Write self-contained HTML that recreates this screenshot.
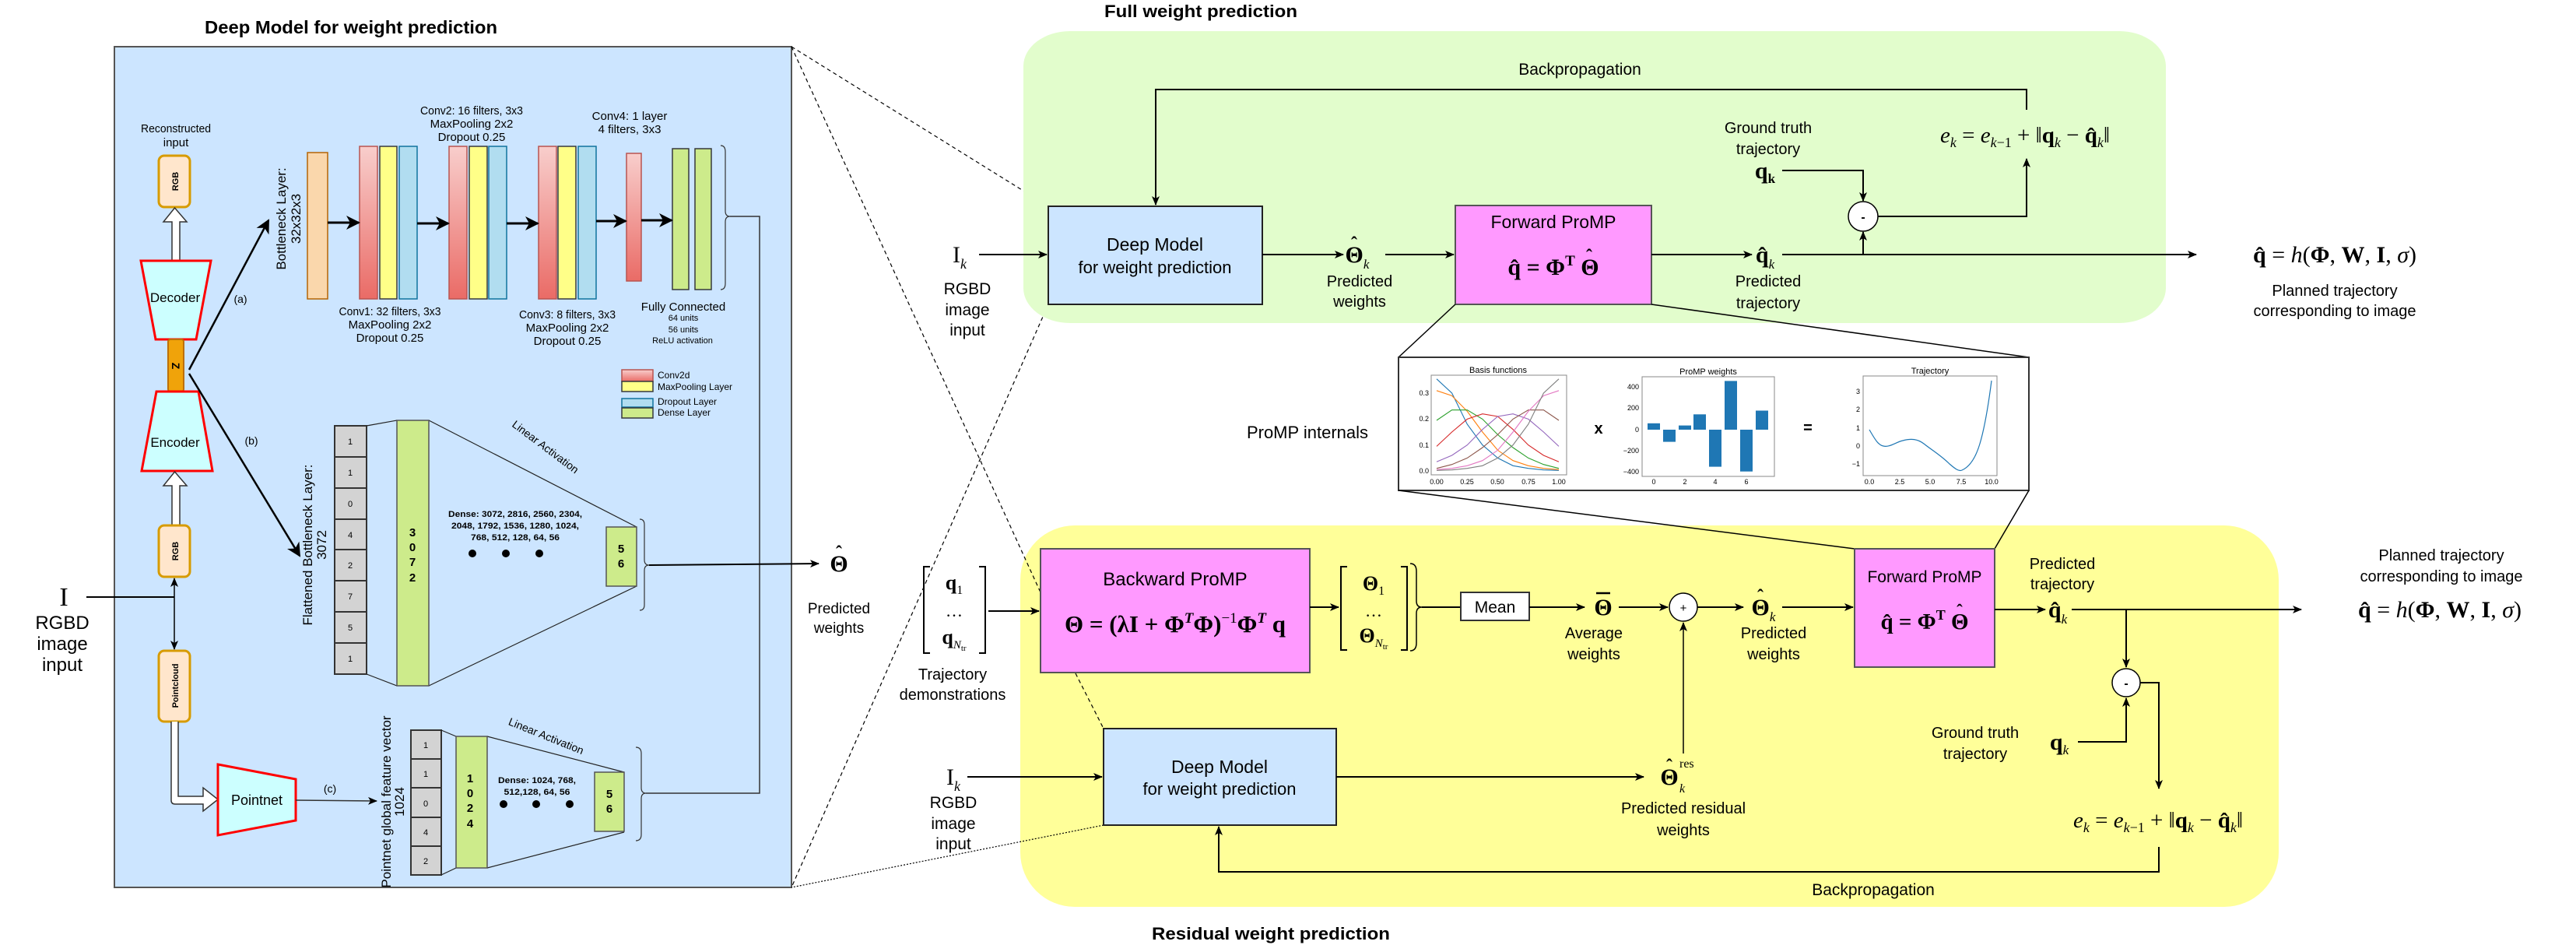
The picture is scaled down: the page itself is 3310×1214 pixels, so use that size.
<!DOCTYPE html>
<html><head><meta charset="utf-8"><style>
html,body{margin:0;padding:0;background:#fff}
svg{display:block}
text{font-family:"Liberation Sans",sans-serif;fill:#000}
.m{font-family:"Liberation Serif",serif}
.b{font-weight:bold}
</style></head><body>
<svg width="3310" height="1214" viewBox="0 0 3310 1214" xmlns="http://www.w3.org/2000/svg">
<defs>
<marker id="a" markerWidth="12" markerHeight="10" refX="11" refY="5" orient="auto" markerUnits="userSpaceOnUse"><path d="M0,0 L12,5 L0,10 L3,5 z" fill="#000"/></marker>
<marker id="t" markerWidth="18" markerHeight="18" refX="16" refY="9" orient="auto" markerUnits="userSpaceOnUse"><path d="M0,0 L18,9 L0,18 L5,9 z" fill="#000"/></marker>
<linearGradient id="rg" x1="0" y1="0" x2="0" y2="1"><stop offset="0" stop-color="#f8cecc"/><stop offset="1" stop-color="#ea6b66"/></linearGradient>
</defs>

<!-- ===== LEFT PANEL ===== -->
<text x="451" y="43" text-anchor="middle" class="b" font-size="23" textLength="376" lengthAdjust="spacingAndGlyphs">Deep Model for weight prediction</text>
<rect x="147" y="60" width="870" height="1080" fill="#cce5ff" stroke="#555" stroke-width="2"/>

<text x="226" y="170" text-anchor="middle" font-size="15" textLength="90" lengthAdjust="spacingAndGlyphs">Reconstructed</text>
<text x="226" y="188" text-anchor="middle" font-size="15">input</text>
<rect x="204" y="200" width="40" height="66" rx="7" fill="#ffe6cc" stroke="#d79b00" stroke-width="3"/>
<text transform="translate(229,233) rotate(-90)" text-anchor="middle" class="b" font-size="11">RGB</text>
<polygon points="221,335 221,285 210,285 224.5,267 240,285 231,285 231,335" fill="#fff" stroke="#333" stroke-width="1.5"/>
<polygon points="181,335 271,335 252,436 200,436" fill="#ccffff" stroke="#f00" stroke-width="3"/>
<text x="225" y="388" text-anchor="middle" font-size="17">Decoder</text>
<rect x="216" y="436" width="20" height="67" rx="3" fill="#f0a30a" stroke="#bd7000" stroke-width="2"/>
<text transform="translate(221,470) rotate(90)" text-anchor="middle" class="b" font-size="14">Z</text>
<polygon points="201,503 255,503 273,605 182,605" fill="#ccffff" stroke="#f00" stroke-width="3"/>
<text x="225" y="574" text-anchor="middle" font-size="17">Encoder</text>
<polygon points="221,675 221,624 210,624 224.5,606 240,624 231,624 231,675" fill="#fff" stroke="#333" stroke-width="1.5"/>
<rect x="204" y="675" width="40" height="66" rx="7" fill="#ffe6cc" stroke="#d79b00" stroke-width="3"/>
<text transform="translate(229,708) rotate(-90)" text-anchor="middle" class="b" font-size="11">RGB</text>
<rect x="204" y="836" width="40" height="91" rx="7" fill="#ffe6cc" stroke="#d79b00" stroke-width="3"/>
<text transform="translate(229,881) rotate(-90)" text-anchor="middle" class="b" font-size="11">Pointcloud</text>
<path d="M220,927 L220,1028 Q220,1033 225,1033 L261,1033 L261,1042 L280,1027 L261,1012 L261,1023 L229,1023 L229,927" fill="#fff" stroke="#333" stroke-width="1.5"/>
<line x1="224" y1="767" x2="224" y2="743" stroke="#000" stroke-width="1.5" marker-end="url(#a)"/>
<line x1="224" y1="767" x2="224" y2="834" stroke="#000" stroke-width="1.5" marker-end="url(#a)"/>
<line x1="111" y1="767" x2="224" y2="767" stroke="#000" stroke-width="2"/>
<text x="82" y="778" text-anchor="middle" class="m" font-size="34">I</text>
<text x="80" y="808" text-anchor="middle" font-size="24">RGBD</text>
<text x="80" y="835" text-anchor="middle" font-size="24">image</text>
<text x="80" y="862" text-anchor="middle" font-size="24">input</text>

<polygon points="280,982 380,1001 380,1054 280,1073" fill="#ccffff" stroke="#f00" stroke-width="3"/>
<text x="330" y="1034" text-anchor="middle" font-size="18">Pointnet</text>
<text x="424" y="1018" text-anchor="middle" font-size="14">(c)</text>
<line x1="380" y1="1028" x2="484" y2="1029" stroke="#333" stroke-width="1.5" marker-end="url(#a)"/>
<text transform="translate(502,1030) rotate(-90)" text-anchor="middle" font-size="17">Pointnet global feature vector</text>
<text transform="translate(519,1030) rotate(-90)" text-anchor="middle" font-size="17">1024</text>
<g stroke="#333" stroke-width="2" fill="#d3d3d3">
<rect x="528" y="938" width="39" height="37"/><rect x="528" y="975" width="39" height="37"/><rect x="528" y="1012" width="39" height="38"/><rect x="528" y="1050" width="39" height="37"/><rect x="528" y="1087" width="39" height="37"/>
</g>
<g font-size="11" text-anchor="middle"><text x="547" y="961">1</text><text x="547" y="998">1</text><text x="547" y="1036">0</text><text x="547" y="1073">4</text><text x="547" y="1110">2</text></g>
<g stroke="#222" stroke-width="1.2" fill="none">
<line x1="567" y1="938" x2="586" y2="946"/><line x1="567" y1="1124" x2="586" y2="1115"/>
<line x1="626" y1="946" x2="802" y2="992"/><line x1="626" y1="1115" x2="802" y2="1069"/>
</g>
<rect x="586" y="946" width="40" height="169" fill="#cdeb8b" stroke="#555" stroke-width="1.5"/>
<g class="b" font-size="15" text-anchor="middle"><text x="604" y="1005">1</text><text x="604" y="1024">0</text><text x="604" y="1043">2</text><text x="604" y="1063">4</text></g>
<rect x="764" y="992" width="38" height="76" fill="#cdeb8b" stroke="#555" stroke-width="1.5"/>
<g class="b" font-size="15" text-anchor="middle"><text x="783" y="1025">5</text><text x="783" y="1044">6</text></g>
<text transform="translate(700,950) rotate(22)" text-anchor="middle" font-size="14">Linear Activation</text>
<text x="690" y="1006" text-anchor="middle" class="b" font-size="11" textLength="100" lengthAdjust="spacingAndGlyphs">Dense: 1024, 768,</text>
<text x="690" y="1021" text-anchor="middle" class="b" font-size="11" textLength="85" lengthAdjust="spacingAndGlyphs">512,128, 64, 56</text>
<circle cx="647" cy="1033" r="5"/><circle cx="689" cy="1033" r="5"/><circle cx="732" cy="1033" r="5"/>
<path d="M817,960 Q824,960 824,968 L824,1012 Q824,1019 830,1019 Q824,1019 824,1026 L824,1072 Q824,1080 817,1080" fill="none" stroke="#333" stroke-width="1.2"/>

<!-- flattened -->
<text transform="translate(401,700) rotate(-90)" text-anchor="middle" font-size="17">Flattened Bottleneck Layer:</text>
<text transform="translate(419,700) rotate(-90)" text-anchor="middle" font-size="17">3072</text>
<g stroke="#333" stroke-width="2" fill="#d3d3d3">
<rect x="430" y="547" width="41" height="40"/><rect x="430" y="587" width="41" height="40"/><rect x="430" y="627" width="41" height="40"/><rect x="430" y="667" width="41" height="39"/><rect x="430" y="706" width="41" height="40"/><rect x="430" y="746" width="41" height="40"/><rect x="430" y="786" width="41" height="40"/><rect x="430" y="826" width="41" height="40"/>
</g>
<g font-size="11" text-anchor="middle"><text x="450" y="571">1</text><text x="450" y="611">1</text><text x="450" y="651">0</text><text x="450" y="691">4</text><text x="450" y="730">2</text><text x="450" y="770">7</text><text x="450" y="810">5</text><text x="450" y="850">1</text></g>
<g stroke="#222" stroke-width="1.2" fill="none">
<line x1="471" y1="547" x2="510" y2="540"/><line x1="471" y1="866" x2="510" y2="881"/>
<line x1="551" y1="540" x2="818" y2="677"/><line x1="551" y1="881" x2="818" y2="753"/>
</g>
<rect x="510" y="540" width="41" height="341" fill="#cdeb8b" stroke="#555" stroke-width="1.5"/>
<g class="b" font-size="15" text-anchor="middle"><text x="530" y="689">3</text><text x="530" y="708">0</text><text x="530" y="727">7</text><text x="530" y="747">2</text></g>
<rect x="779" y="677" width="39" height="76" fill="#cdeb8b" stroke="#555" stroke-width="1.5"/>
<g class="b" font-size="15" text-anchor="middle"><text x="798" y="710">5</text><text x="798" y="729">6</text></g>
<text transform="translate(698,578) rotate(37)" text-anchor="middle" font-size="14">Linear Activation</text>
<text x="662" y="664" text-anchor="middle" class="b" font-size="11" textLength="172" lengthAdjust="spacingAndGlyphs">Dense: 3072, 2816, 2560, 2304,</text>
<text x="662" y="679" text-anchor="middle" class="b" font-size="11" textLength="164" lengthAdjust="spacingAndGlyphs">2048, 1792, 1536, 1280, 1024,</text>
<text x="662" y="694" text-anchor="middle" class="b" font-size="11" textLength="114" lengthAdjust="spacingAndGlyphs">768, 512, 128, 64, 56</text>
<circle cx="607" cy="711" r="5"/><circle cx="650" cy="711" r="5"/><circle cx="693" cy="711" r="5"/>
<path d="M822,667 Q828,667 828,674 L828,719 Q828,726 834,726 Q828,726 828,733 L828,777 Q828,784 822,784" fill="none" stroke="#333" stroke-width="1.2"/>

<!-- (a),(b) -->
<line x1="243" y1="475" x2="345" y2="283" stroke="#000" stroke-width="2.5" marker-end="url(#t)"/>
<line x1="243" y1="480" x2="385" y2="714" stroke="#000" stroke-width="2.5" marker-end="url(#t)"/>
<text x="309" y="389" text-anchor="middle" font-size="14">(a)</text>
<text x="323" y="571" text-anchor="middle" font-size="14">(b)</text>

<!-- conv stack -->
<text transform="translate(367,281) rotate(-90)" text-anchor="middle" font-size="17">Bottleneck Layer:</text>
<text transform="translate(386,281) rotate(-90)" text-anchor="middle" font-size="17">32x32x3</text>
<rect x="395" y="196" width="26" height="188" fill="#fad7ac" stroke="#b46504" stroke-width="1.5"/>
<g stroke-width="1.5">
<rect x="462" y="188" width="23" height="196" fill="url(#rg)" stroke="#b85450"/>
<rect x="488" y="188" width="22" height="196" fill="#ffff88" stroke="#36393d"/>
<rect x="513" y="188" width="23" height="196" fill="#b1ddf0" stroke="#10739e"/>
<rect x="577" y="188" width="23" height="196" fill="url(#rg)" stroke="#b85450"/>
<rect x="603" y="188" width="23" height="196" fill="#ffff88" stroke="#36393d"/>
<rect x="628" y="188" width="23" height="196" fill="#b1ddf0" stroke="#10739e"/>
<rect x="692" y="188" width="23" height="196" fill="url(#rg)" stroke="#b85450"/>
<rect x="717" y="188" width="23" height="196" fill="#ffff88" stroke="#36393d"/>
<rect x="743" y="188" width="23" height="196" fill="#b1ddf0" stroke="#10739e"/>
<rect x="805" y="197" width="19" height="164" fill="url(#rg)" stroke="#b85450"/>
<rect x="864" y="191" width="21" height="181" fill="#cdeb8b" stroke="#36393d"/>
<rect x="893" y="191" width="21" height="181" fill="#cdeb8b" stroke="#36393d"/>
</g>
<g stroke="#000" stroke-width="3">
<line x1="421" y1="286" x2="461" y2="286" marker-end="url(#t)"/>
<line x1="536" y1="287" x2="576" y2="287" marker-end="url(#t)"/>
<line x1="651" y1="287" x2="691" y2="287" marker-end="url(#t)"/>
<line x1="766" y1="284" x2="804" y2="284" marker-end="url(#t)"/>
<line x1="824" y1="283" x2="863" y2="283" marker-end="url(#t)"/>
</g>
<g font-size="15" text-anchor="middle">
<text x="501" y="405" textLength="131" lengthAdjust="spacingAndGlyphs">Conv1: 32 filters, 3x3</text><text x="501" y="422">MaxPooling 2x2</text><text x="501" y="439">Dropout 0.25</text>
<text x="606" y="147" textLength="132" lengthAdjust="spacingAndGlyphs">Conv2: 16 filters, 3x3</text><text x="606" y="164">MaxPooling 2x2</text><text x="606" y="181">Dropout 0.25</text>
<text x="729" y="409" textLength="124" lengthAdjust="spacingAndGlyphs">Conv3: 8 filters, 3x3</text><text x="729" y="426">MaxPooling 2x2</text><text x="729" y="443">Dropout 0.25</text>
<text x="809" y="154">Conv4: 1 layer</text><text x="809" y="171">4 filters, 3x3</text>
<text x="878" y="399">Fully Connected</text>
</g>
<g font-size="11" text-anchor="middle"><text x="878" y="412">64 units</text><text x="878" y="427">56 units</text><text x="877" y="441">ReLU activation</text></g>
<path d="M926,187 Q932,187 932,195 L932,271 Q932,278 938,278 Q932,278 932,285 L932,364 Q932,372 926,372" fill="none" stroke="#333" stroke-width="1.2"/>
<polyline points="938,278 976,278 976,1019 830,1019" fill="none" stroke="#333" stroke-width="1.5"/>
<!-- legend -->
<rect x="799" y="475" width="40" height="15" fill="url(#rg)" stroke="#b85450" stroke-width="1.5"/>
<rect x="799" y="490" width="40" height="13" fill="#ffff88" stroke="#36393d" stroke-width="1.5"/>
<rect x="799" y="512" width="40" height="11" fill="#b1ddf0" stroke="#10739e" stroke-width="1.5"/>
<rect x="799" y="524" width="40" height="13" fill="#cdeb8b" stroke="#36393d" stroke-width="1.5"/>
<g font-size="12"><text x="845" y="486">Conv2d</text><text x="845" y="501">MaxPooling Layer</text><text x="845" y="520">Dropout Layer</text><text x="845" y="534">Dense Layer</text></g>

<!-- output of left panel -->
<line x1="834" y1="726" x2="1052" y2="724" stroke="#000" stroke-width="2" marker-end="url(#a)"/>
<text x="1078" y="734" text-anchor="middle" class="m b" font-size="30">Θ</text>
<text x="1078" y="718" text-anchor="middle" class="m b" font-size="24">ˆ</text>
<text x="1078" y="788" text-anchor="middle" font-size="19">Predicted</text>
<text x="1078" y="813" text-anchor="middle" font-size="19">weights</text>

<!-- dotted connectors -->
<g stroke="#000" stroke-width="1.2" stroke-dasharray="5,4" fill="none">
<line x1="1017" y1="60" x2="1347" y2="265"/>
<line x1="1347" y1="391" x2="1017" y2="1140"/>
</g>

<!-- ===== TOP GREEN ===== -->
<text x="1543" y="22" text-anchor="middle" class="b" font-size="22" textLength="248" lengthAdjust="spacingAndGlyphs">Full weight prediction</text>
<rect x="1315" y="40" width="1468" height="375" rx="60" ry="45" fill="#e2fdcc"/>
<text x="2030" y="96" text-anchor="middle" font-size="21">Backpropagation</text>
<polyline points="2604,141 2604,115 1485,115 1485,263" fill="none" stroke="#000" stroke-width="2" marker-end="url(#a)"/>
<rect x="1347" y="265" width="275" height="126" fill="#cce5ff" stroke="#222" stroke-width="2"/>
<text x="1484" y="322" text-anchor="middle" font-size="23">Deep Model</text>
<text x="1484" y="351" text-anchor="middle" font-size="22">for weight prediction</text>
<rect x="1870" y="264" width="252" height="127" fill="#ff99ff" stroke="#555" stroke-width="2"/>
<text x="1996" y="293" text-anchor="middle" font-size="23">Forward ProMP</text>
<text x="1996" y="353" text-anchor="middle" class="m b" font-size="30">q̂ = Φ<tspan font-size="19" dy="-12">T</tspan><tspan dy="12"> Θ</tspan></text>
<text x="2042" y="337" text-anchor="middle" class="m b" font-size="24">ˆ</text>
<text x="1233" y="337" text-anchor="middle" class="m" font-size="30">I<tspan font-size="18" font-style="italic" dy="8">k</tspan></text>
<line x1="1258" y1="327" x2="1345" y2="327" stroke="#000" stroke-width="2" marker-end="url(#a)"/>
<text x="1243" y="378" text-anchor="middle" font-size="21">RGBD</text>
<text x="1243" y="405" text-anchor="middle" font-size="21">image</text>
<text x="1243" y="431" text-anchor="middle" font-size="21">input</text>
<line x1="1622" y1="327" x2="1726" y2="327" stroke="#000" stroke-width="2" marker-end="url(#a)"/>
<text x="1744" y="337" text-anchor="middle" class="m b" font-size="30">Θ<tspan font-size="17" font-style="italic" font-weight="normal" dy="8">k</tspan></text>
<text x="1740" y="321" text-anchor="middle" class="m b" font-size="24">ˆ</text>
<line x1="1780" y1="327" x2="1868" y2="327" stroke="#000" stroke-width="2" marker-end="url(#a)"/>
<text x="1747" y="368" text-anchor="middle" font-size="20">Predicted</text>
<text x="1747" y="394" text-anchor="middle" font-size="20">weights</text>
<line x1="2122" y1="327" x2="2251" y2="327" stroke="#000" stroke-width="2" marker-end="url(#a)"/>
<text x="2268" y="337" text-anchor="middle" class="m b" font-size="30">q̂<tspan font-size="17" font-style="italic" font-weight="normal" dy="8">k</tspan></text>
<text x="2272" y="368" text-anchor="middle" font-size="20">Predicted</text>
<text x="2272" y="396" text-anchor="middle" font-size="20">trajectory</text>
<line x1="2290" y1="327" x2="2822" y2="327" stroke="#000" stroke-width="2" marker-end="url(#a)"/>
<text x="3000" y="337" text-anchor="middle" class="m" font-size="30"><tspan font-weight="bold">q̂</tspan> = <tspan font-style="italic">h</tspan>(<tspan font-weight="bold">Φ</tspan>, <tspan font-weight="bold">W</tspan>, <tspan font-weight="bold">I</tspan>, <tspan font-style="italic">σ</tspan>)</text>
<text x="3000" y="380" text-anchor="middle" font-size="20">Planned trajectory</text>
<text x="3000" y="406" text-anchor="middle" font-size="20">corresponding to image</text>
<text x="2272" y="171" text-anchor="middle" font-size="20">Ground truth</text>
<text x="2272" y="198" text-anchor="middle" font-size="20">trajectory</text>
<text x="2268" y="229" text-anchor="middle" class="m b" font-size="30">q<tspan font-size="17" dy="6">k</tspan></text>
<polyline points="2290,219 2394,219 2394,258" fill="none" stroke="#000" stroke-width="2" marker-end="url(#a)"/>
<line x1="2394" y1="327" x2="2394" y2="298" stroke="#000" stroke-width="2" marker-end="url(#a)"/>
<ellipse cx="2394" cy="278" rx="19" ry="19" fill="#fff" stroke="#000" stroke-width="1.5"/>
<text x="2394" y="284" text-anchor="middle" class="b" font-size="16">-</text>
<polyline points="2413,278 2604,278 2604,204" fill="none" stroke="#000" stroke-width="2" marker-end="url(#a)"/>
<text x="2602" y="183" text-anchor="middle" class="m" font-size="29"><tspan font-style="italic">e</tspan><tspan font-size="18" font-style="italic" dy="6">k</tspan><tspan dy="-6"> = </tspan><tspan font-style="italic">e</tspan><tspan font-size="18" dy="6"><tspan font-style="italic">k</tspan>−1</tspan><tspan dy="-6"> + ‖</tspan><tspan font-weight="bold">q</tspan><tspan font-size="18" font-style="italic" dy="6">k</tspan><tspan dy="-6"> − </tspan><tspan font-weight="bold">q̂</tspan><tspan font-size="18" font-style="italic" dy="6">k</tspan><tspan dy="-6">‖</tspan></text>

<!-- ProMP internals -->
<g stroke="#000" stroke-width="1.5">
<line x1="1870" y1="391" x2="1797" y2="459"/><line x1="2122" y1="391" x2="2607" y2="459"/>
</g>
<rect x="1797" y="459" width="810" height="171" fill="#fff" stroke="#333" stroke-width="2"/>
<text x="1680" y="563" text-anchor="middle" font-size="22">ProMP internals</text>
<text x="1925" y="479" text-anchor="middle" font-size="11">Basis functions</text>
<rect x="1839" y="482" width="174" height="128" fill="#fff" stroke="#888" stroke-width="1"/>
<g fill="none" stroke-width="1.1">
<polyline stroke="#1f77b4" points="1846,486.8 1865.6,505 1885.3,545 1904.9,571.7 1924.5,588.4 1944.1,598.3 1963.8,601.7 1983.4,603.7 2003,604.3"/>
<polyline stroke="#ff7f0e" points="1846,501.8 1865.6,508.4 1885.3,528.4 1904.9,555 1924.5,578.4 1944.1,591.7 1963.8,598.3 1983.4,601.7 2003,603.3"/>
<polyline stroke="#2ca02c" points="1846,540 1865.6,526.7 1885.3,526.7 1904.9,538.4 1924.5,558.4 1944.1,575 1963.8,588.4 1983.4,596.7 2003,601.7"/>
<polyline stroke="#d62728" points="1846,573.4 1865.6,555 1885.3,538.4 1904.9,531.7 1924.5,535 1944.1,551.7 1963.8,571.7 1983.4,585 2003,593.3"/>
<polyline stroke="#9467bd" points="1846,593.3 1865.6,585 1885.3,571.7 1904.9,551.7 1924.5,535 1944.1,531.7 1963.8,538.4 1983.4,555 2003,573.4"/>
<polyline stroke="#8c564b" points="1846,601.7 1865.6,596.7 1885.3,588.4 1904.9,575 1924.5,558.4 1944.1,538.4 1963.8,526.7 1983.4,526.7 2003,540"/>
<polyline stroke="#e377c2" points="1846,603.3 1865.6,601.7 1885.3,598.3 1904.9,591.7 1924.5,578.4 1944.1,555 1963.8,528.4 1983.4,508.4 2003,501.8"/>
<polyline stroke="#7f7f7f" points="1846,604.3 1865.6,603.7 1885.3,601.7 1904.9,598.3 1924.5,588.4 1944.1,571.7 1963.8,545 1983.4,505 2003,486.8"/>
</g>
<g font-size="9" text-anchor="end"><text x="1836" y="608">0.0</text><text x="1836" y="575">0.1</text><text x="1836" y="541">0.2</text><text x="1836" y="508">0.3</text></g>
<g font-size="9" text-anchor="middle"><text x="1846" y="622">0.00</text><text x="1885" y="622">0.25</text><text x="1924" y="622">0.50</text><text x="1964" y="622">0.75</text><text x="2003" y="622">1.00</text></g>
<text x="2054" y="557" text-anchor="middle" class="b" font-size="20">x</text>
<text x="2195" y="481" text-anchor="middle" font-size="11">ProMP weights</text>
<rect x="2110" y="484" width="170" height="128" fill="#fff" stroke="#888" stroke-width="1"/>
<g fill="#1f77b4">
<rect x="2117" y="543.8" width="16" height="8.2"/><rect x="2137" y="552" width="16" height="15.6"/><rect x="2157" y="546.6" width="16" height="5.4"/><rect x="2176" y="532.3" width="16" height="19.7"/><rect x="2196" y="552" width="16" height="47.6"/><rect x="2216" y="489.4" width="16" height="62.6"/><rect x="2236" y="552" width="16" height="53.7"/><rect x="2256" y="527.5" width="16" height="24.5"/>
</g>
<g font-size="9" text-anchor="end"><text x="2106" y="500">400</text><text x="2106" y="527">200</text><text x="2106" y="555">0</text><text x="2106" y="582">−200</text><text x="2106" y="609">−400</text></g>
<g font-size="9" text-anchor="middle"><text x="2125" y="622">0</text><text x="2165" y="622">2</text><text x="2204" y="622">4</text><text x="2244" y="622">6</text></g>
<text x="2323" y="556" text-anchor="middle" class="b" font-size="20">=</text>
<text x="2480" y="480" text-anchor="middle" font-size="11">Trajectory</text>
<rect x="2394" y="483" width="172" height="128" fill="#fff" stroke="#888" stroke-width="1"/>
<path d="M2402,552 C2410,566 2414,572 2420,573 C2428,575 2436,568 2445,566 C2456,563 2464,564 2472,570 C2482,578 2494,585 2505,596 C2512,602 2517,606 2521,604 C2530,600 2538,590 2544,570 C2550,550 2555,520 2559,489" fill="none" stroke="#1f77b4" stroke-width="1.2"/>
<g font-size="9" text-anchor="end"><text x="2390" y="506">3</text><text x="2390" y="529">2</text><text x="2390" y="553">1</text><text x="2390" y="576">0</text><text x="2390" y="599">−1</text></g>
<g font-size="9" text-anchor="middle"><text x="2402" y="622">0.0</text><text x="2441" y="622">2.5</text><text x="2480" y="622">5.0</text><text x="2520" y="622">7.5</text><text x="2559" y="622">10.0</text></g>

<!-- ===== BOTTOM YELLOW ===== -->
<rect x="1311" y="675" width="1617" height="490" rx="70" ry="70" fill="#ffff99"/>
<g stroke="#000" stroke-width="1.5">
<line x1="1797" y1="630" x2="2383" y2="705"/><line x1="2607" y1="630" x2="2563" y2="705"/>
</g>
<g stroke="#000" stroke-width="1.2" stroke-dasharray="5,4" fill="none">
<line x1="1017" y1="60" x2="1337" y2="761"/>
<line x1="1382" y1="865" x2="1418" y2="936"/>
</g>
<line x1="1418" y1="1060" x2="1017" y2="1140" stroke="#000" stroke-width="1.2" stroke-dasharray="2,2"/>
<text x="1633" y="1207" text-anchor="middle" class="b" font-size="22" textLength="306" lengthAdjust="spacingAndGlyphs">Residual weight prediction</text>
<rect x="1337" y="705" width="346" height="159" fill="#ff99ff" stroke="#555" stroke-width="2"/>
<text x="1510" y="752" text-anchor="middle" font-size="24">Backward ProMP</text>
<text x="1510" y="812" text-anchor="middle" class="m b" font-size="31">Θ = (λI + Φ<tspan font-size="19" font-style="italic" dy="-12">T</tspan><tspan dy="12">Φ)</tspan><tspan font-size="19" font-weight="normal" dy="-12">−1</tspan><tspan dy="12">Φ</tspan><tspan font-size="19" font-style="italic" dy="-12">T</tspan><tspan dy="12"> q</tspan></text>
<g fill="none" stroke="#000" stroke-width="2">
<path d="M1195,728 L1187,728 L1187,839 L1195,839"/><path d="M1258,728 L1266,728 L1266,839 L1258,839"/>
<path d="M1731,728 L1723,728 L1723,835 L1731,835"/><path d="M1800,728 L1808,728 L1808,835 L1800,835"/>
</g>
<text x="1226" y="757" text-anchor="middle" class="m b" font-size="26">q<tspan font-size="16" font-weight="normal" dy="6">1</tspan></text>
<text x="1226" y="792" text-anchor="middle" class="m" font-size="22">…</text>
<text x="1226" y="827" text-anchor="middle" class="m b" font-size="26">q<tspan font-size="15" font-style="italic" font-weight="normal" dy="6">N</tspan><tspan font-size="11" font-weight="normal" dy="3">tr</tspan></text>
<text x="1224" y="873" text-anchor="middle" font-size="20">Trajectory</text>
<text x="1224" y="899" text-anchor="middle" font-size="20">demonstrations</text>
<line x1="1270" y1="785" x2="1335" y2="785" stroke="#000" stroke-width="2" marker-end="url(#a)"/>
<line x1="1683" y1="780" x2="1720" y2="780" stroke="#000" stroke-width="2" marker-end="url(#a)"/>
<text x="1765" y="758" text-anchor="middle" class="m b" font-size="26">Θ<tspan font-size="16" font-weight="normal" dy="6">1</tspan></text>
<text x="1765" y="792" text-anchor="middle" class="m" font-size="22">…</text>
<text x="1765" y="825" text-anchor="middle" class="m b" font-size="26">Θ<tspan font-size="15" font-style="italic" font-weight="normal" dy="6">N</tspan><tspan font-size="11" font-weight="normal" dy="3">tr</tspan></text>
<path d="M1812,724 Q1820,724 1820,734 L1820,772 Q1820,780 1827,780 Q1820,780 1820,788 L1820,826 Q1820,836 1812,836" fill="none" stroke="#000" stroke-width="1.5"/>
<line x1="1827" y1="780" x2="1877" y2="780" stroke="#000" stroke-width="2"/>
<rect x="1877" y="761" width="88" height="36" fill="#fff" stroke="#333" stroke-width="2"/>
<text x="1921" y="787" text-anchor="middle" font-size="21">Mean</text>
<line x1="1965" y1="780" x2="2036" y2="780" stroke="#000" stroke-width="2" marker-end="url(#a)"/>
<text x="2060" y="790" text-anchor="middle" class="m b" font-size="30">Θ</text>
<line x1="2051" y1="762" x2="2069" y2="762" stroke="#000" stroke-width="2.5"/>
<text x="2048" y="820" text-anchor="middle" font-size="20">Average</text>
<text x="2048" y="847" text-anchor="middle" font-size="20">weights</text>
<line x1="2080" y1="780" x2="2143" y2="780" stroke="#000" stroke-width="2" marker-end="url(#a)"/>
<circle cx="2163" cy="780" r="18" fill="#fff" stroke="#000" stroke-width="1.5"/>
<text x="2163" y="786" text-anchor="middle" font-size="15">+</text>
<line x1="2181" y1="780" x2="2240" y2="780" stroke="#000" stroke-width="2" marker-end="url(#a)"/>
<text x="2266" y="790" text-anchor="middle" class="m b" font-size="30">Θ<tspan font-size="17" font-style="italic" font-weight="normal" dy="8">k</tspan></text>
<text x="2262" y="774" text-anchor="middle" class="m b" font-size="24">ˆ</text>
<text x="2279" y="820" text-anchor="middle" font-size="20">Predicted</text>
<text x="2279" y="847" text-anchor="middle" font-size="20">weights</text>
<line x1="2290" y1="780" x2="2381" y2="780" stroke="#000" stroke-width="2" marker-end="url(#a)"/>
<rect x="2383" y="705" width="180" height="152" fill="#ff99ff" stroke="#555" stroke-width="2"/>
<text x="2473" y="748" text-anchor="middle" font-size="21">Forward ProMP</text>
<text x="2473" y="808" text-anchor="middle" class="m b" font-size="29">q̂ = Φ<tspan font-size="18" dy="-12">T</tspan><tspan dy="12"> Θ</tspan></text>
<text x="2518" y="792" text-anchor="middle" class="m b" font-size="23">ˆ</text>
<text x="2650" y="731" text-anchor="middle" font-size="20">Predicted</text>
<text x="2650" y="757" text-anchor="middle" font-size="20">trajectory</text>
<line x1="2563" y1="783" x2="2628" y2="783" stroke="#000" stroke-width="2" marker-end="url(#a)"/>
<text x="2644" y="793" text-anchor="middle" class="m b" font-size="30">q̂<tspan font-size="17" font-style="italic" font-weight="normal" dy="8">k</tspan></text>
<line x1="2662" y1="783" x2="2957" y2="783" stroke="#000" stroke-width="2" marker-end="url(#a)"/>
<text x="3135" y="793" text-anchor="middle" class="m" font-size="30"><tspan font-weight="bold">q̂</tspan> = <tspan font-style="italic">h</tspan>(<tspan font-weight="bold">Φ</tspan>, <tspan font-weight="bold">W</tspan>, <tspan font-weight="bold">I</tspan>, <tspan font-style="italic">σ</tspan>)</text>
<text x="3137" y="720" text-anchor="middle" font-size="20">Planned trajectory</text>
<text x="3137" y="747" text-anchor="middle" font-size="20">corresponding to image</text>
<line x1="2732" y1="783" x2="2732" y2="857" stroke="#000" stroke-width="2" marker-end="url(#a)"/>
<circle cx="2732" cy="877" r="18" fill="#fff" stroke="#000" stroke-width="1.5"/>
<text x="2732" y="883" text-anchor="middle" class="b" font-size="16">-</text>
<polyline points="2670,953 2732,953 2732,897" fill="none" stroke="#000" stroke-width="2" marker-end="url(#a)"/>
<text x="2646" y="963" text-anchor="middle" class="m b" font-size="30">q<tspan font-size="17" font-style="italic" font-weight="normal" dy="6">k</tspan></text>
<text x="2538" y="948" text-anchor="middle" font-size="20">Ground truth</text>
<text x="2538" y="975" text-anchor="middle" font-size="20">trajectory</text>
<polyline points="2750,877 2774,877 2774,1013" fill="none" stroke="#000" stroke-width="2" marker-end="url(#a)"/>
<text x="2773" y="1063" text-anchor="middle" class="m" font-size="29"><tspan font-style="italic">e</tspan><tspan font-size="18" font-style="italic" dy="6">k</tspan><tspan dy="-6"> = </tspan><tspan font-style="italic">e</tspan><tspan font-size="18" dy="6"><tspan font-style="italic">k</tspan>−1</tspan><tspan dy="-6"> + ‖</tspan><tspan font-weight="bold">q</tspan><tspan font-size="18" font-style="italic" dy="6">k</tspan><tspan dy="-6"> − </tspan><tspan font-weight="bold">q̂</tspan><tspan font-size="18" font-style="italic" dy="6">k</tspan><tspan dy="-6">‖</tspan></text>
<polyline points="2774,1088 2774,1120 1566,1120 1566,1062" fill="none" stroke="#000" stroke-width="2" marker-end="url(#a)"/>
<text x="2407" y="1150" text-anchor="middle" font-size="21">Backpropagation</text>
<rect x="1418" y="936" width="299" height="124" fill="#cce5ff" stroke="#222" stroke-width="2"/>
<text x="1567" y="993" text-anchor="middle" font-size="23">Deep Model</text>
<text x="1567" y="1021" text-anchor="middle" font-size="22">for weight prediction</text>
<text x="1225" y="1008" text-anchor="middle" class="m" font-size="30">I<tspan font-size="18" font-style="italic" dy="8">k</tspan></text>
<line x1="1243" y1="998" x2="1416" y2="998" stroke="#000" stroke-width="2" marker-end="url(#a)"/>
<text x="1225" y="1038" text-anchor="middle" font-size="21">RGBD</text>
<text x="1225" y="1065" text-anchor="middle" font-size="21">image</text>
<text x="1225" y="1091" text-anchor="middle" font-size="21">input</text>
<line x1="1717" y1="998" x2="2112" y2="998" stroke="#000" stroke-width="2" marker-end="url(#a)"/>
<text x="2145" y="1008" text-anchor="middle" class="m b" font-size="30">Θ</text>
<text x="2145" y="992" text-anchor="middle" class="m b" font-size="24">ˆ</text>
<text x="2158" y="1018" class="m" font-style="italic" font-size="16">k</text>
<text x="2158" y="986" class="m" font-size="16">res</text>
<line x1="2163" y1="968" x2="2163" y2="800" stroke="#000" stroke-width="1.5" marker-end="url(#a)"/>
<text x="2163" y="1045" text-anchor="middle" font-size="20">Predicted residual</text>
<text x="2163" y="1073" text-anchor="middle" font-size="20">weights</text>
</svg>
</body></html>
